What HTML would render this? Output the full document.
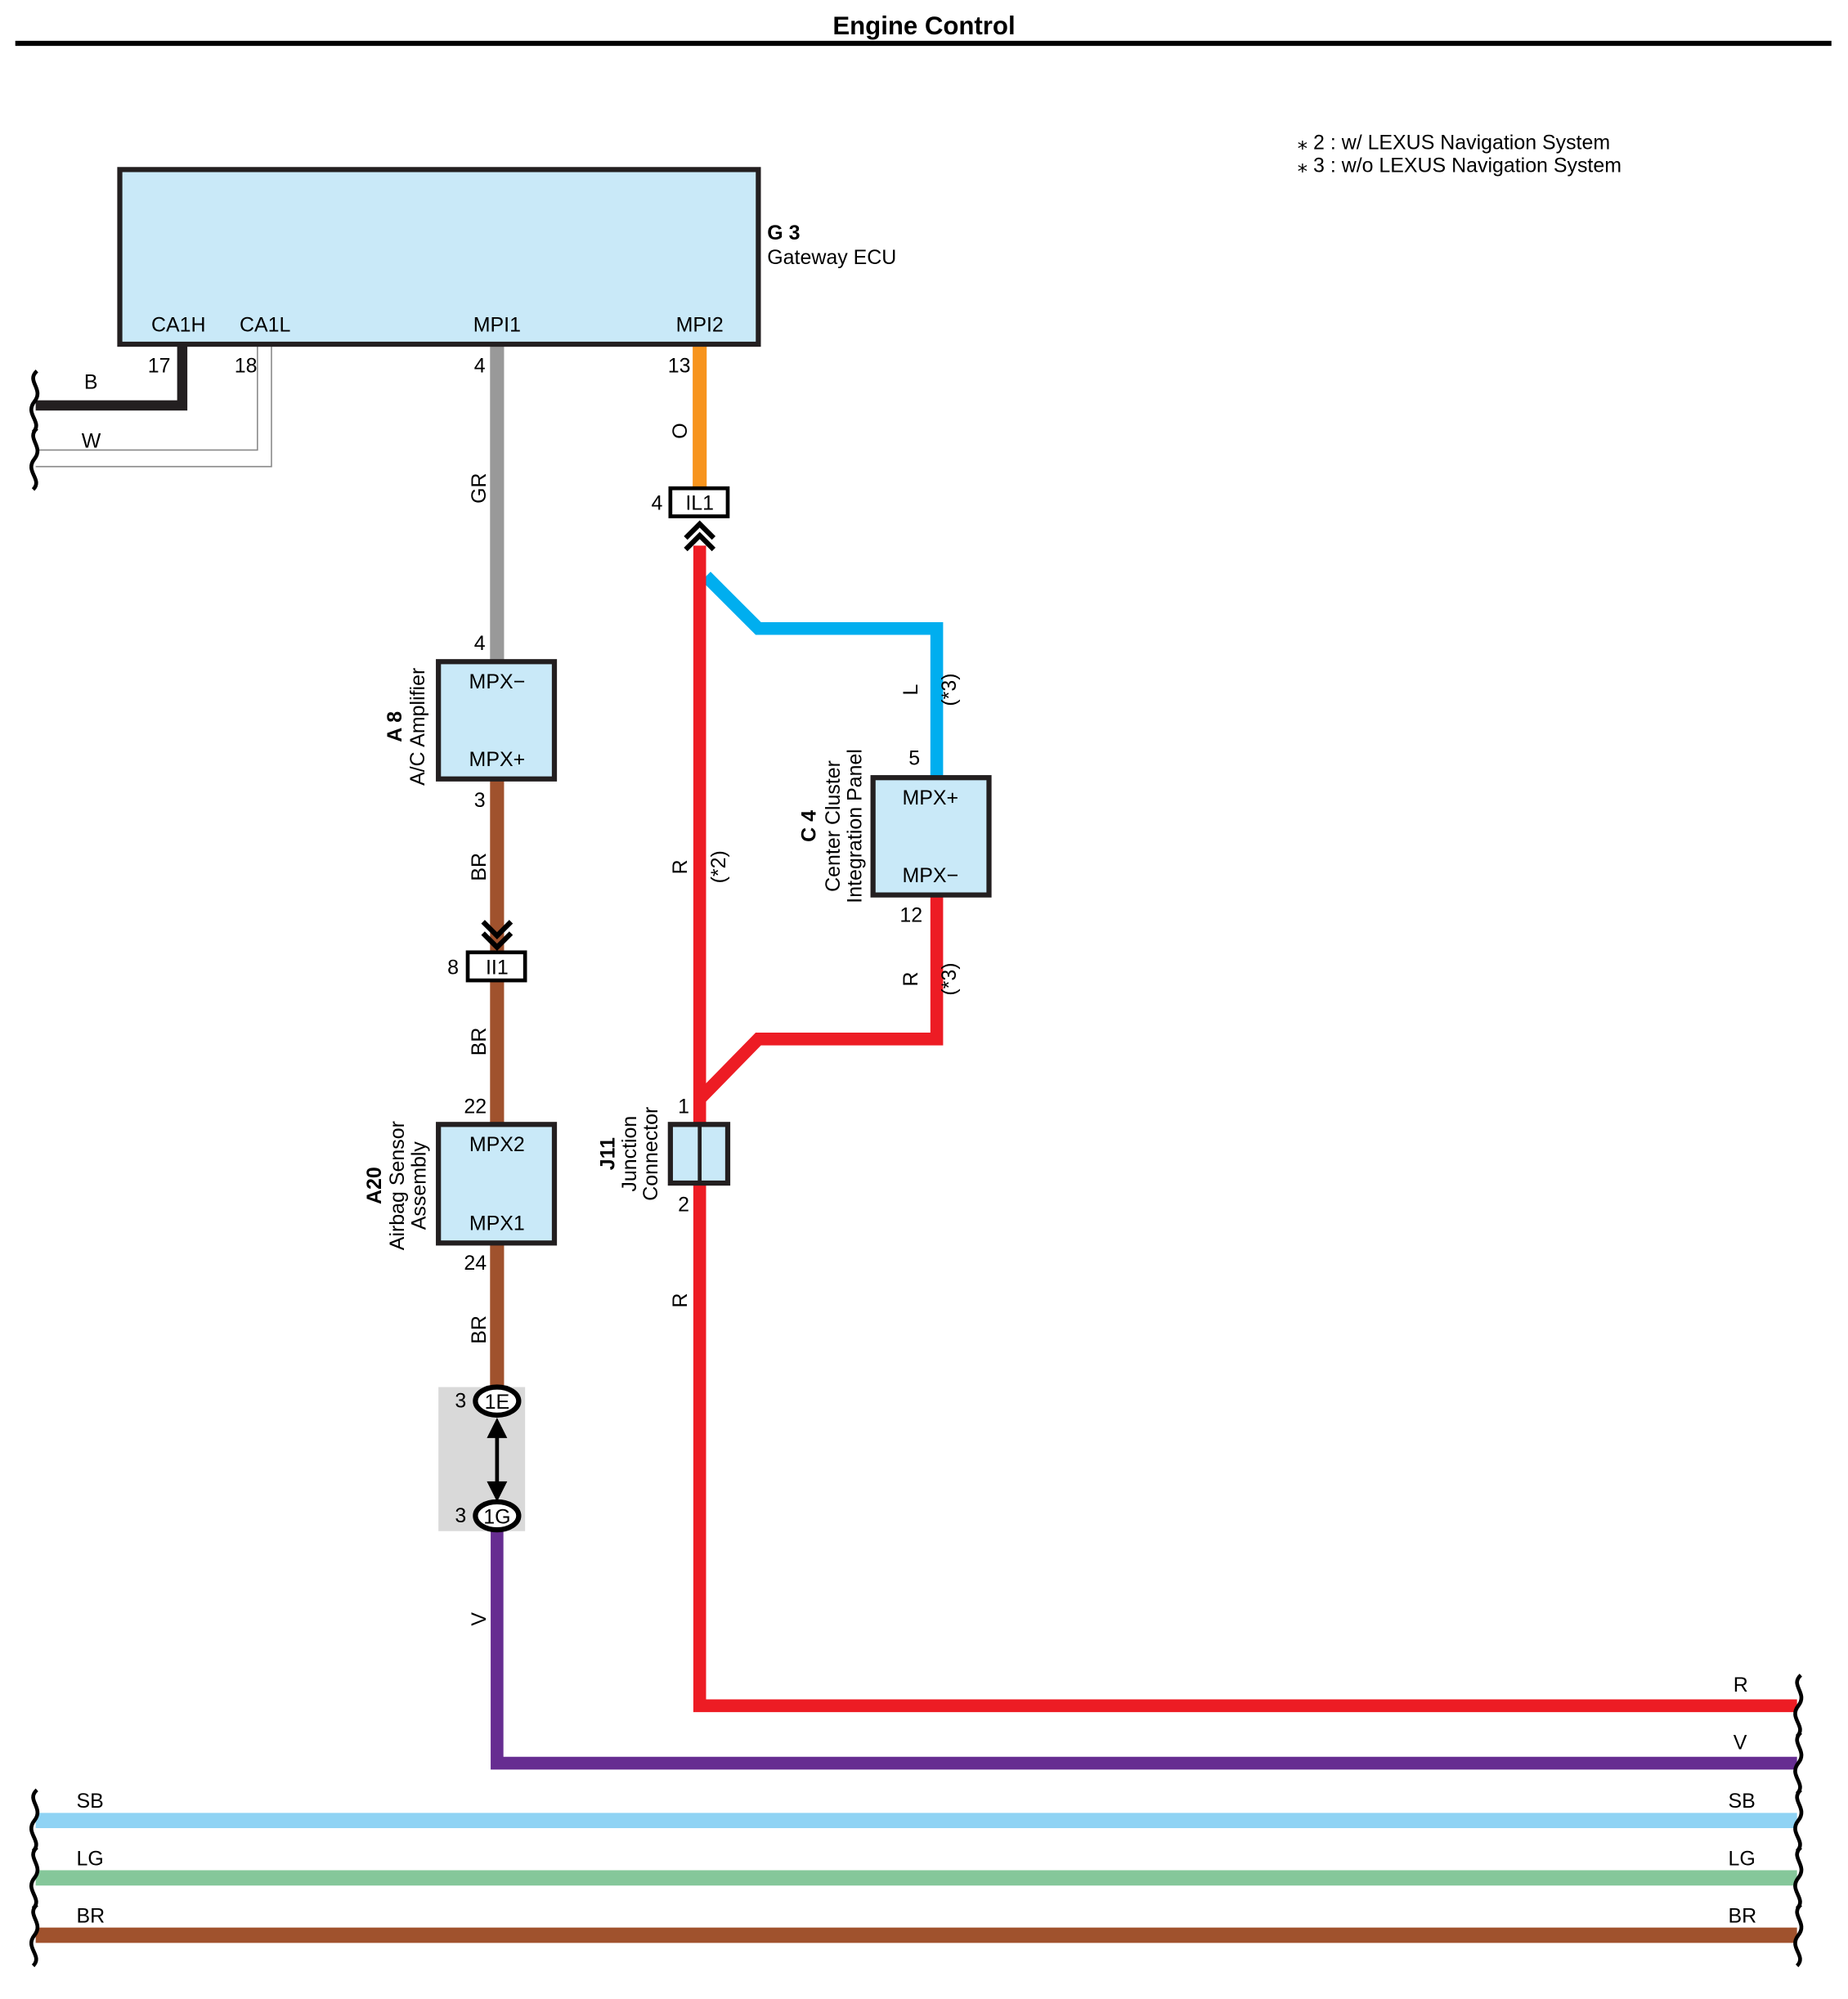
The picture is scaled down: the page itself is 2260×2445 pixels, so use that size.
<!DOCTYPE html>
<html><head><meta charset="utf-8"><style>
html,body{margin:0;padding:0;background:#fff}
svg{display:block}
text{font-family:"Liberation Sans",sans-serif;font-size:16px;fill:#000}
.b{font-weight:bold}
</style></head><body>
<svg width="2260" height="2445" viewBox="0 0 1450 1568" preserveAspectRatio="none" xmlns="http://www.w3.org/2000/svg">
<defs>
<path id="sq" d="M1,-24 c-9,8 6,14 -2,24 c-8,10 7,16 -1,24" fill="none" stroke="#000" stroke-width="3"/>
</defs>
<text x="725" y="27" text-anchor="middle" class="b" style="font-size:20px">Engine Control</text>
<rect x="12" y="32" width="1425" height="4" fill="#000"/>
<text x="1018" y="117">⁎ 2 : w/ LEXUS Navigation System</text>
<text x="1018" y="135">⁎ 3 : w/o LEXUS Navigation System</text>

<polyline points="143,270 143,318 28,318" fill="none" stroke="#231f20" stroke-width="8"/>
<polyline points="202,270 202,353 28,353" fill="none" stroke="#888" stroke-width="1"/>
<polyline points="213,270 213,366 28,366" fill="none" stroke="#888" stroke-width="1"/>
<text x="66" y="305">B</text><text x="64" y="351">W</text>
<text x="116" y="292">17</text><text x="184" y="292">18</text>
<use href="#sq" x="28" y="315"/><use href="#sq" x="28" y="360"/>

<line x1="390" y1="270" x2="390" y2="519" stroke="#999" stroke-width="11"/>
<text x="372" y="292">4</text><text x="372" y="510">4</text>
<text transform="translate(381,383) rotate(-90)" text-anchor="middle">GR</text>
<line x1="549" y1="270" x2="549" y2="384" stroke="#f7941d" stroke-width="11"/>
<text x="524" y="292">13</text>
<text transform="translate(539,338) rotate(-90)" text-anchor="middle">O</text>

<polyline points="554,452 595,493 735,493 735,610" fill="none" stroke="#00aeef" stroke-width="10"/>
<text transform="translate(720,541) rotate(-90)" text-anchor="middle">L</text>
<text transform="translate(750,541) rotate(-90)" text-anchor="middle">(*3)</text>
<polyline points="549,428 549,1338 1410,1338" fill="none" stroke="#ed1c24" stroke-width="10"/>
<polyline points="735,702 735,815 595,815 549,862" fill="none" stroke="#ed1c24" stroke-width="10"/>
<text transform="translate(539,680) rotate(-90)" text-anchor="middle">R</text>
<text transform="translate(569,680) rotate(-90)" text-anchor="middle">(*2)</text>
<text transform="translate(720,768) rotate(-90)" text-anchor="middle">R</text>
<text transform="translate(750,768) rotate(-90)" text-anchor="middle">(*3)</text>
<text transform="translate(539,1020) rotate(-90)" text-anchor="middle">R</text>

<rect x="526" y="383" width="45" height="22" fill="#fff" stroke="#000" stroke-width="3"/>
<text x="549" y="400" text-anchor="middle">IL1</text>
<text x="511" y="400">4</text>
<polyline points="538,422 549,411 560,422" fill="none" stroke="#000" stroke-width="4"/>
<polyline points="538,431 549,420 560,431" fill="none" stroke="#000" stroke-width="4"/>

<rect x="94" y="133" width="501" height="137" fill="#c9e9f8" stroke="#231f20" stroke-width="4"/>
<text x="140" y="260" text-anchor="middle">CA1H</text>
<text x="208" y="260" text-anchor="middle">CA1L</text>
<text x="390" y="260" text-anchor="middle">MPI1</text>
<text x="549" y="260" text-anchor="middle">MPI2</text>
<text x="602" y="188" class="b">G 3</text>
<text x="602" y="207">Gateway ECU</text>

<rect x="685" y="610" width="91" height="92" fill="#c9e9f8" stroke="#231f20" stroke-width="4"/>
<text x="730" y="631" text-anchor="middle">MPX+</text>
<text x="730" y="692" text-anchor="middle">MPX−</text>
<text x="713" y="600">5</text><text x="706" y="723">12</text>
<text transform="translate(640,648) rotate(-90)" text-anchor="middle" class="b">C 4</text>
<text transform="translate(659,648) rotate(-90)" text-anchor="middle">Center Cluster</text>
<text transform="translate(676,648) rotate(-90)" text-anchor="middle">Integration Panel</text>

<rect x="526" y="882" width="45" height="46" fill="#c9e9f8" stroke="#231f20" stroke-width="4"/>
<line x1="549" y1="882" x2="549" y2="928" stroke="#231f20" stroke-width="3"/>
<text x="532" y="873">1</text><text x="532" y="950">2</text>
<text transform="translate(482,905) rotate(-90)" text-anchor="middle" class="b">J11</text>
<text transform="translate(499,905) rotate(-90)" text-anchor="middle">Junction</text>
<text transform="translate(516,905) rotate(-90)" text-anchor="middle">Connector</text>

<line x1="390" y1="611" x2="390" y2="1090" stroke="#a0522d" stroke-width="11"/>
<text x="372" y="633">3</text>
<text transform="translate(381,680) rotate(-90)" text-anchor="middle">BR</text>
<text transform="translate(381,817) rotate(-90)" text-anchor="middle">BR</text>
<text transform="translate(381,1043) rotate(-90)" text-anchor="middle">BR</text>
<polyline points="379,723 390,734 401,723" fill="none" stroke="#000" stroke-width="4"/>
<polyline points="379,732 390,743 401,732" fill="none" stroke="#000" stroke-width="4"/>
<rect x="367" y="747" width="45" height="22" fill="#fff" stroke="#000" stroke-width="3"/>
<text x="390" y="764" text-anchor="middle">II1</text>
<text x="351" y="764">8</text>
<text x="364" y="873">22</text>

<rect x="344" y="519" width="91" height="92" fill="#c9e9f8" stroke="#231f20" stroke-width="4"/>
<text x="390" y="540" text-anchor="middle">MPX−</text>
<text x="390" y="601" text-anchor="middle">MPX+</text>
<text transform="translate(315,570) rotate(-90)" text-anchor="middle" class="b">A 8</text>
<text transform="translate(333,570) rotate(-90)" text-anchor="middle">A/C Amplifier</text>

<rect x="344" y="882" width="91" height="93" fill="#c9e9f8" stroke="#231f20" stroke-width="4"/>
<text x="390" y="903" text-anchor="middle">MPX2</text>
<text x="390" y="965" text-anchor="middle">MPX1</text>
<text x="364" y="996">24</text>
<text transform="translate(299,930) rotate(-90)" text-anchor="middle" class="b">A20</text>
<text transform="translate(317,930) rotate(-90)" text-anchor="middle">Airbag Sensor</text>
<text transform="translate(334,930) rotate(-90)" text-anchor="middle">Assembly</text>

<rect x="344" y="1088" width="68" height="113" fill="#d9d9d9"/>
<polyline points="390,1200 390,1383 1410,1383" fill="none" stroke="#662d91" stroke-width="10"/>
<text transform="translate(381,1270) rotate(-90)" text-anchor="middle">V</text>
<ellipse cx="390" cy="1099" rx="17" ry="11" fill="#fff" stroke="#000" stroke-width="4"/>
<text x="390" y="1105" text-anchor="middle">1E</text>
<ellipse cx="390" cy="1189" rx="17" ry="11" fill="#fff" stroke="#000" stroke-width="4"/>
<text x="390" y="1195" text-anchor="middle">1G</text>
<text x="357" y="1104">3</text><text x="357" y="1194">3</text>
<line x1="390" y1="1118" x2="390" y2="1170" stroke="#000" stroke-width="3"/>
<polygon points="382,1128 390,1112 398,1128" fill="#000"/>
<polygon points="382,1162 390,1178 398,1162" fill="#000"/>

<text x="1360" y="1327">R</text>
<text x="1360" y="1372">V</text>
<use href="#sq" x="1412" y="1338"/><use href="#sq" x="1412" y="1383"/>

<line x1="28" y1="1428" x2="1410" y2="1428" stroke="#8fd3f4" stroke-width="12"/>
<line x1="28" y1="1473" x2="1410" y2="1473" stroke="#85c79a" stroke-width="12"/>
<line x1="28" y1="1518" x2="1410" y2="1518" stroke="#a0522d" stroke-width="12"/>
<text x="60" y="1418">SB</text><text x="1356" y="1418">SB</text>
<text x="60" y="1463">LG</text><text x="1356" y="1463">LG</text>
<text x="60" y="1508">BR</text><text x="1356" y="1508">BR</text>
<use href="#sq" x="28" y="1428"/><use href="#sq" x="28" y="1473"/><use href="#sq" x="28" y="1518"/>
<use href="#sq" x="1412" y="1428"/><use href="#sq" x="1412" y="1473"/><use href="#sq" x="1412" y="1518"/>
</svg>
</body></html>
